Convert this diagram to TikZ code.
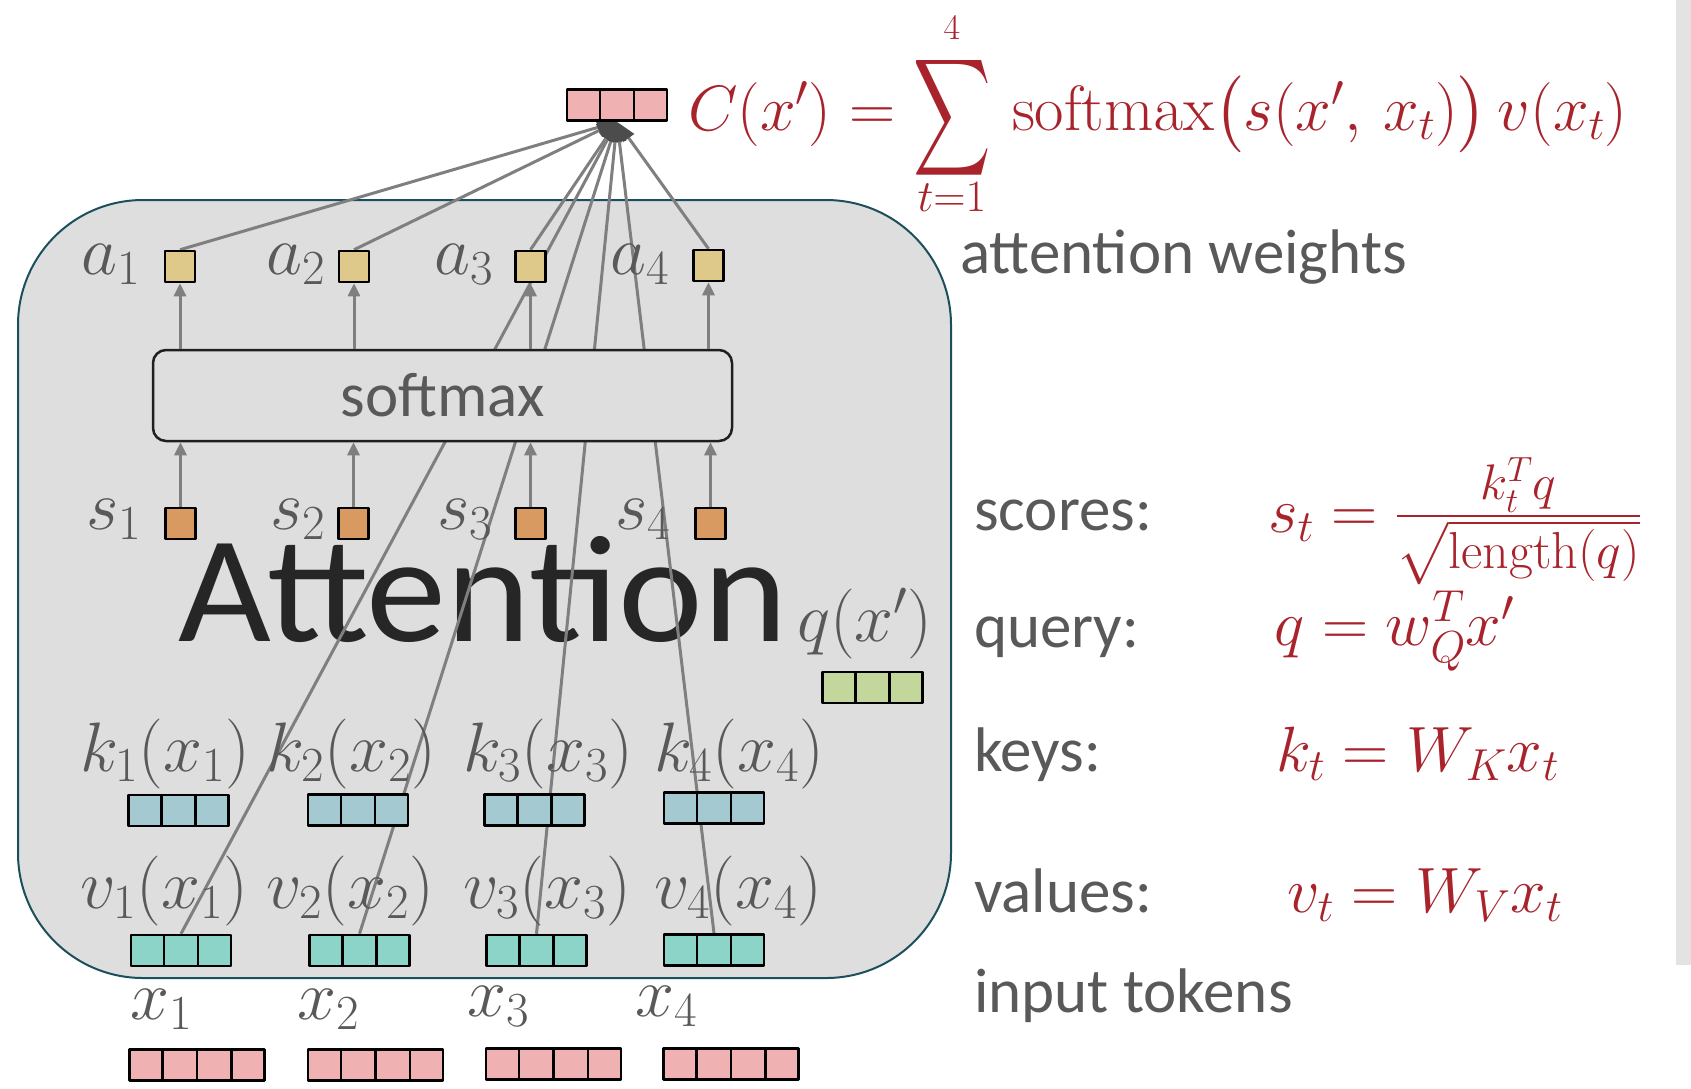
\RequirePackage{fix-cm}
\documentclass[tikz,border=0pt]{standalone}
\usepackage{amsmath}
\usepackage[no-math]{fontspec}
\setmainfont{Carlito}
\usetikzlibrary{arrows.meta,shapes.multipart}
% large delimiters and operators at every size
\DeclareFontShape{OMX}{cmex}{m}{n}{<-> cmex10}{}

\definecolor{txtgray}{HTML}{595959}
\definecolor{titleblack}{HTML}{262626}
\definecolor{eqred}{HTML}{A8232B}
\definecolor{wiregray}{HTML}{7F7F7F}
\definecolor{panelfill}{HTML}{DEDEDE}
\definecolor{paneledge}{HTML}{1B4F5C}
\definecolor{stripgray}{HTML}{E3E3E3}
\definecolor{cpink}{HTML}{EFB1B2}
\definecolor{cyellow}{HTML}{DFC98A}
\definecolor{corange}{HTML}{D99A62}
\definecolor{cgreen}{HTML}{C3D69B}
\definecolor{cblue}{HTML}{A5C9D1}
\definecolor{cteal}{HTML}{8CD3C8}

\pgfdeclarelayer{panel}
\pgfdeclarelayer{wires}
\pgfsetlayers{panel,wires,main}

\begin{document}
\begin{tikzpicture}[x=1pt,y=-1pt,line join=round,
	sqbox/.style={draw=black,line width=2.5pt,inner sep=0pt,minimum width=30pt,minimum height=31pt},
	vecbox/.style={draw=black,line width=2.5pt,inner sep=0pt,rectangle split,rectangle split horizontal,
		rectangle split parts=#1,rectangle split empty part width=27pt,
		rectangle split empty part height=31pt,rectangle split empty part depth=0pt},
	smbox/.style={draw=black!88,fill=panelfill,line width=2.5pt,rounded corners=13pt,
		minimum width=579pt,minimum height=91pt,inner sep=0pt,text=txtgray,font=\fontsize{63}{63}\selectfont},
	wire/.style={draw=wiregray,line width=3pt,-{Triangle[length=20pt,width=13pt,color=black!70]}},
	riser/.style={draw=wiregray,line width=3pt,-{Triangle[length=13pt,width=12pt]}},
	lbl/.style={text=txtgray,font=\fontsize{70}{70}\selectfont,inner sep=0pt,anchor=base west},
	note/.style={text=txtgray,font=\fontsize{63}{63}\selectfont,inner sep=0pt,anchor=base west},
	eqn/.style={text=eqred,font=\fontsize{64}{64}\selectfont,inner sep=0pt,anchor=base west}]

\useasboundingbox (0,0) rectangle (1691,1088);
\fill[stripgray] (1676,0) rectangle (1691,965);

% attention block and its title
\begin{pgfonlayer}{panel}
\draw[paneledge,fill=panelfill,line width=2pt,rounded corners=125pt] (18,200) rectangle (951,978);
\node[text=titleblack,font=\fontsize{152}{152}\selectfont,inner sep=0pt,anchor=base west] (title) at (178,641) {\scalebox{1.055}[1]{Attention}};
\end{pgfonlayer}

% output context vector
\node[vecbox=3,fill=cpink] (C) at (617,105) {};

% attention weights
\node[sqbox,fill=cyellow] (a1) at (180,266.5) {};
\node[sqbox,fill=cyellow] (a2) at (354,266.5) {};
\node[sqbox,fill=cyellow] (a3) at (530.5,266.5) {};
\node[sqbox,fill=cyellow] (a4) at (708.5,265.5) {};

\node[smbox] (sm) at (442.5,395.5) {softmax};

% scores
\node[sqbox,fill=corange] (s1) at (180.5,523.5) {};
\node[sqbox,fill=corange] (s2) at (353.5,523.5) {};
\node[sqbox,fill=corange] (s3) at (530.5,523.5) {};
\node[sqbox,fill=corange] (s4) at (710.5,523.5) {};

% query
\node[vecbox=3,fill=cgreen] (q) at (872.5,687.5) {};

% keys
\node[vecbox=3,fill=cblue] (k1) at (178.5,810.5) {};
\node[vecbox=3,fill=cblue] (k2) at (358,810) {};
\node[vecbox=3,fill=cblue] (k3) at (534.5,810) {};
\node[vecbox=3,fill=cblue] (k4) at (714,808) {};

% values
\node[vecbox=3,fill=cteal] (v1) at (181,950.5) {};
\node[vecbox=3,fill=cteal] (v2) at (359.5,950.5) {};
\node[vecbox=3,fill=cteal] (v3) at (536.5,950.5) {};
\node[vecbox=3,fill=cteal] (v4) at (714,950) {};

% input tokens
\node[vecbox=4,fill=cpink] (x1) at (197,1065) {};
\node[vecbox=4,fill=cpink] (x2) at (375.5,1065) {};
\node[vecbox=4,fill=cpink] (x3) at (553.5,1064) {};
\node[vecbox=4,fill=cpink] (x4) at (731,1064) {};

% weighted sum into the context vector
\begin{pgfonlayer}{wires}
\draw[wire] (v1.north) -- (C.south);
\draw[wire] (v2.north) -- (C.south);
\draw[wire] (v3.north) -- (C.south);
\draw[wire] (v4.north) -- (C.south);
\draw[wire] (a1.north) -- (C.south);
\draw[wire] (a2.north) -- (C.south);
\draw[wire] (a3.north) -- (C.south);
\draw[wire] (a4.north) -- (C.south);
\end{pgfonlayer}

\draw[riser] (sm.north -| a1) -- (a1.south);
\draw[riser] (sm.north -| a2) -- (a2.south);
\draw[riser] (sm.north -| a3) -- (a3.south);
\draw[riser] (sm.north -| a4) -- (a4.south);
\draw[riser] (s1.north) -- (s1 |- sm.south);
\draw[riser] (s2.north) -- (s2 |- sm.south);
\draw[riser] (s3.north) -- (s3 |- sm.south);
\draw[riser] (s4.north) -- (s4 |- sm.south);

% labels
\node[lbl] (la1) at (81,274) {$a_1$};
\node[lbl] (la2) at (266,274) {$a_2$};
\node[lbl] (la3) at (434,274) {$a_3$};
\node[lbl] (la4) at (610,274) {$a_4$};
\node[lbl] (ls1) at (86,529) {$s_1$};
\node[lbl] (ls2) at (270,529) {$s_2$};
\node[lbl] (ls3) at (437,529) {$s_3$};
\node[lbl] (ls4) at (615,529) {$s_4$};
\node[lbl] (lq) at (797,641) {$q(x')$};
\node[lbl] (lk1) at (80,771) {$k_1(x_1)$};
\node[lbl] (lk2) at (266,771) {$k_2(x_2)$};
\node[lbl] (lk3) at (463,771) {$k_3(x_3)$};
\node[lbl] (lk4) at (654,771) {$k_4(x_4)$};
\node[lbl] (lv1) at (80,908) {$v_1(x_1)$};
\node[lbl] (lv2) at (266,908) {$v_2(x_2)$};
\node[lbl] (lv3) at (463,908) {$v_3(x_3)$};
\node[lbl] (lv4) at (654,908) {$v_4(x_4)$};
\node[lbl] (lx1) at (130,1019) {$x_1$};
\node[lbl] (lx2) at (297,1019) {$x_2$};
\node[lbl] (lx3) at (467,1016) {$x_3$};
\node[lbl] (lx4) at (635,1016) {$x_4$};

% right-hand notes and formulas
\node[eqn] (eqC) at (688,130) {$C(x') = \mathop{\raisebox{-8pt}{\scalebox{0.84}[1.28]{$\displaystyle\sum$}}}\limits_{\smash{\raisebox{10pt}{$\scriptstyle t=1$}}}^{\text{\fontsize{36}{36}\selectfont$4$}} \,\mathrm{softmax}\bigl(s(x',\,x_t)\bigr)\,v(x_t)$};
\node[note] (nw) at (960,273) {attention weights};
\node[note] (ns) at (974,530) {scores:};
\node[note] (nq) at (974,647) {query:};
\node[note] (nk) at (974,771) {keys:};
\node[note] (nv) at (974,912) {values:};
\node[note] (nx) at (974,1012) {input tokens};
\node[eqn] (eqs) at (1268,532) {$s_t = \frac{\text{\fontsize{50}{50}\selectfont$k_t^T q$}}{\text{\fontsize{52}{52}\selectfont$\sqrt{\mathrm{length}(q)}$}}$};
\node[eqn] (eqq) at (1274,645) {$q = w_Q^T x'$};
\node[eqn] (eqk) at (1276,771) {$k_t = W_K x_t$};
\node[eqn] (eqv) at (1287,912) {$v_t = W_V x_t$};
\end{tikzpicture}
\end{document}
